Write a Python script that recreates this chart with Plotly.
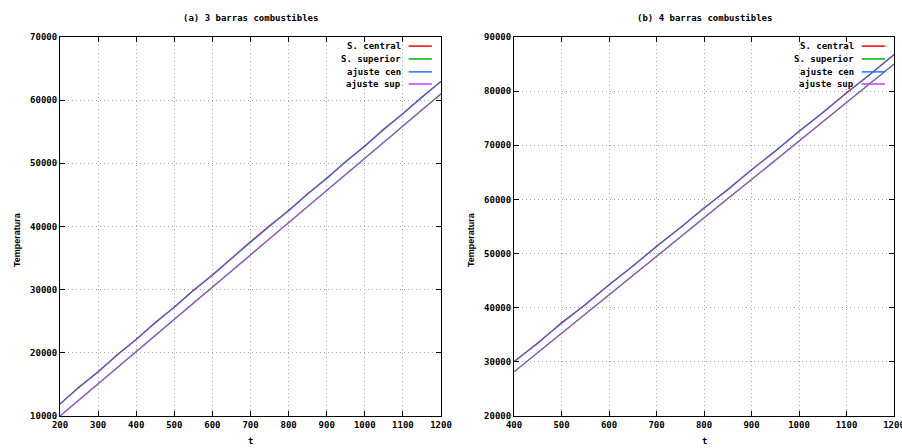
import plotly.graph_objects as go

# ---------------- data ----------------
# Panel (a): 3 barras combustibles
t_a = [200, 250, 300, 350, 400, 450, 500, 550, 600, 650, 700, 750, 800, 850, 900,
       950, 1000, 1050, 1100, 1150, 1200]
central_a = [11900, 14600, 16950, 19700, 22100, 24800, 27200, 29900, 32300, 35000, 37600,
             40100, 42500, 45200, 47600, 50300, 52700, 55450, 57850, 60500, 62950]
superior_a = [10000, 12580, 15120, 17700, 20230, 22760, 25320, 27840, 30400, 32950, 35500,
              38080, 40600, 43150, 45720, 48250, 50800, 53340, 55900, 58450, 61000]
fit_t_a = [200, 1200]
fit_cen_a = [11950, 63000]
fit_sup_a = [10000, 61000]

# Panel (b): 4 barras combustibles
t_b = [400, 450, 500, 550, 600, 650, 700, 750, 800, 850, 900, 950, 1000, 1050, 1100, 1150, 1200]
central_b = [30050, 33450, 37200, 40550, 44250, 47650, 51350, 54750, 58400, 61800, 65500,
             68900, 72600, 76000, 79700, 83100, 86750]
superior_b = [28150, 31720, 35230, 38830, 42340, 45940, 49450, 53040, 56560, 60150, 63660,
              67260, 70770, 74360, 77880, 81470, 85000]
fit_t_b = [400, 1200]
fit_cen_b = [30000, 86700]
fit_sup_b = [28150, 85000]

series_names = ["S. central", "S. superior", "ajuste cen", "ajuste sup"]
colors = ["#ff0000", "#00b000", "#1e78ff", "#c040ff"]

titles = ["(a) 3 barras combustibles", "(b) 4 barras combustibles"]
x_title = "t"
y_title = "Temperatura"
x_ticks_a = [200, 300, 400, 500, 600, 700, 800, 900, 1000, 1100, 1200]
x_ticks_b = [400, 500, 600, 700, 800, 900, 1000, 1100, 1200]
y_ticks_a = [10000, 20000, 30000, 40000, 50000, 60000, 70000]
y_ticks_b = [20000, 30000, 40000, 50000, 60000, 70000, 80000, 90000]

# ---------------- figure ----------------
W, H = 902, 448
mono = dict(family="DejaVu Sans Mono", size=9, color="black", weight="bold")
sans = dict(family="Liberation Sans", size=9, color="black", weight="bold")

fig = go.Figure()

panels = [
    ("x", "y", t_a, central_a, superior_a, fit_t_a, fit_cen_a, fit_sup_a),
    ("x2", "y2", t_b, central_b, superior_b, fit_t_b, fit_cen_b, fit_sup_b),
]
for xa, ya, t, cen, sup, ft, fcen, fsup in panels:
    fig.add_trace(go.Scatter(x=t, y=cen, mode="lines", line=dict(color=colors[0], width=1.3),
                             xaxis=xa, yaxis=ya, showlegend=False))
    fig.add_trace(go.Scatter(x=t, y=sup, mode="lines", line=dict(color=colors[1], width=1.3),
                             xaxis=xa, yaxis=ya, showlegend=False))
    fig.add_trace(go.Scatter(x=ft, y=fcen, mode="lines", line=dict(color=colors[2], width=1.1),
                             xaxis=xa, yaxis=ya, showlegend=False))
    fig.add_trace(go.Scatter(x=ft, y=fsup, mode="lines", line=dict(color=colors[3], width=1.1),
                             xaxis=xa, yaxis=ya, showlegend=False))

dom_x_a = [60 / W, 441 / W]
dom_x_b = [514 / W, 894 / W]
dom_y = [1 - 416 / H, 1 - 37 / H]

axis_common = dict(
    showline=True, linecolor="black", linewidth=1, mirror="allticks",
    ticks="inside", ticklen=5, tickcolor="black",
    showgrid=True, gridcolor="#a8a8a8", griddash="1px,3px", gridwidth=1,
    zeroline=False, tickfont=mono, automargin=False, tickformat="d",
    ticklabeloverflow="allow",
)

fig.update_layout(
    width=W, height=H,
    margin=dict(l=0, r=0, t=0, b=0),
    paper_bgcolor="white", plot_bgcolor="white",
    showlegend=False,
    xaxis=dict(domain=dom_x_a, range=[200, 1200], tickvals=x_ticks_a, anchor="y", **axis_common),
    yaxis=dict(domain=dom_y, range=[10000, 70000], tickvals=y_ticks_a, anchor="x", **axis_common),
    xaxis2=dict(domain=dom_x_b, range=[400, 1200], tickvals=x_ticks_b, anchor="y2", **axis_common),
    yaxis2=dict(domain=dom_y, range=[20000, 90000], tickvals=y_ticks_b, anchor="x2", **axis_common),
)

# panel titles and axis titles
for xref, title, ytx in zip(["x domain", "x2 domain"], titles, [17 / W, 471 / W]):
    fig.add_annotation(text=title, xref=xref, yref="paper", x=0.5, y=1 - 18 / H,
                       showarrow=False, font=mono, xanchor="center", yanchor="middle")
    fig.add_annotation(text=x_title, xref=xref, yref="paper", x=0.5, y=0,
                       showarrow=False, font=mono, xanchor="center", yanchor="bottom")
    fig.add_annotation(text=y_title, xref="paper", yref="paper", x=ytx, y=1 - 240 / H,
                       showarrow=False, font=sans, textangle=-90,
                       xanchor="center", yanchor="middle")

# gnuplot-style keys (text right-aligned, sample line to the right)
key_rows = [0.976, 0.942, 0.908, 0.876]
for xref, yref in [("x domain", "y domain"), ("x2 domain", "y2 domain")]:
    for name, col, ry in zip(series_names, colors, key_rows):
        fig.add_annotation(text=name, xref=xref, yref=yref, x=0.9, y=ry,
                           xanchor="right", yanchor="middle", showarrow=False, font=mono)
        fig.add_shape(type="line", xref=xref, yref=yref, x0=0.915, x1=0.976, y0=ry, y1=ry,
                      line=dict(color=col, width=1.5))

fig.write_html("out.html", config={"displayModeBar": False},
               post_script="document.body.style.margin='0px';document.body.style.overflow='hidden';")
